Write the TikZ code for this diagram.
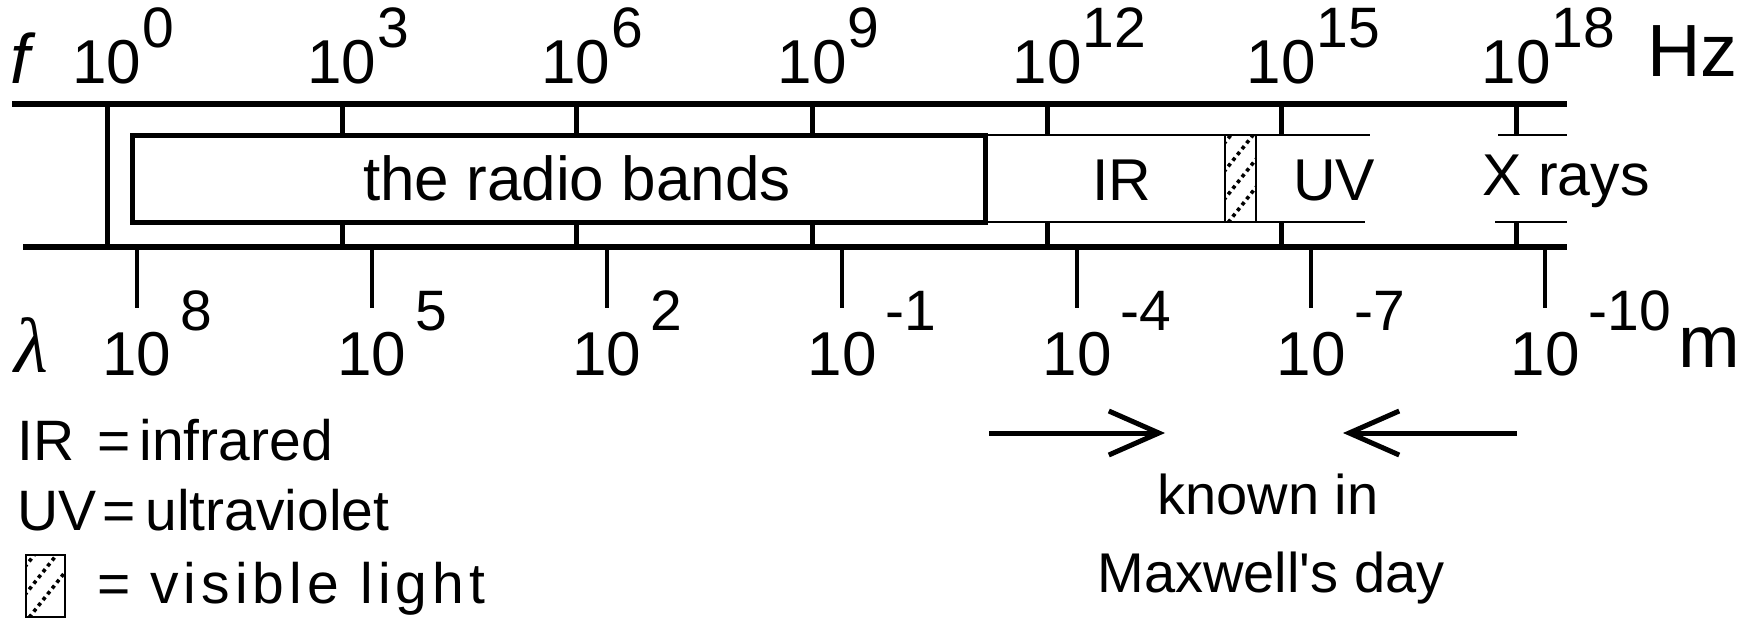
\documentclass[tikz,border=0pt]{standalone}
\usepackage{fontspec}
\setmainfont{Liberation Sans}[Ligatures=TeXOff]
\newfontfamily\lamfont{Liberation Serif}[Ligatures=TeXOff]
\usetikzlibrary{arrows.meta,calc}
\newcommand\fsz[1]{\fontsize{#1}{#1}\selectfont}
\newcommand\visfill[4]{%
  \begin{scope}
    \clip (#1,#2) rectangle (#3,#4);
    \foreach \k in {0,...,6} {\draw[dots] (#1-6,#4+12-\k*28) -- ++(46,-58);}
  \end{scope}
  \draw[vis] (#1,#2) rectangle (#3,#4);}
\begin{document}
\begin{tikzpicture}[x=1pt,y=-1pt,
  axis/.style={line width=6pt},
  tick/.style={line width=5pt},
  ltick/.style={line width=4pt},
  thinline/.style={line width=1.5pt},
  num/.style={font=\fsz{62}, inner sep=0pt, anchor=base},
  sup/.style={font=\fsz{57}, inner sep=0pt, anchor=base west},
  lsup/.style={font=\fsz{57}, inner sep=0pt, anchor=base west},
  band/.style={font=\fsz{59}, inner sep=0pt, anchor=base},
  leg/.style={font=\fsz{57}, inner sep=0pt, anchor=base west},
  note/.style={font=\fsz{56}, inner sep=0pt, anchor=base},
  unit/.style={font=\fsz{74}, inner sep=0pt, anchor=base west},
  arr/.style={line width=5pt, -{Straight Barb[length=50pt,width=44pt]}},
  vis/.style={draw, line width=1.2pt},
  dots/.style={line width=3.6pt, dash pattern=on 3.6pt off 3.8pt}
]
\useasboundingbox (0,0) rectangle (1760,618);

% main axis lines
\draw[axis] (12,104) -- (1567,104);
\draw[axis] (23,247) -- (1567,247);

% upper ticks
\draw[tick] (107,104) -- (107,247);
\foreach \x in {342,576,812,1047,1281,1516} {
  \draw[tick] (\x,104) -- (\x,135);
  \draw[tick] (\x,222) -- (\x,247);
}

% upper labels
\node[font=\itshape\fsz{70}, inner sep=0pt, anchor=base west] (f) at (10,83) {f};
\foreach \x/\e [count=\i] in {107/0,342/3,576/6,812/9,1047/12,1281/15,1516/18} {
  \node[num] (up\i) at (\x,83) {10};
  \node[sup] (ups\i) at ($(up\i.base east)+(1,-35)$) {\e};
}
\node[unit] (hz) at (1647,77) {Hz};

% lower ticks and labels
\node[font=\lamfont\itshape\fsz{78}, inner sep=0pt, anchor=base west] (lam) at (14,372) {λ};
\foreach \x/\e [count=\i] in {137/8,372/5,607/2,842/-1,1077/-4,1311/-7,1545/-10} {
  \draw[ltick] (\x,247) -- (\x,308);
  \node[num] (lo\i) at (\x,375) {10};
  \node[lsup] (los\i) at ($(lo\i.base east)+(9,-45)$) {\e};
}
\node[unit] (m) at (1678,367) {m};

% bands
\draw[line width=5pt] (132,135) rectangle (985,222);
\node[band, font=\fsz{62}] (radio) at (577,200) {the radio bands};
\draw[thinline] (985,135) -- (1370,135);
\draw[thinline] (985,222) -- (1365,222);
\draw[thinline] (1498,135) -- (1567,135);
\draw[thinline] (1495,222) -- (1567,222);
\visfill{1225}{135}{1256}{222}
\node[band] (ir) at (1122,200) {IR};
\node[band] (uv) at (1334,200) {UV};
\node[band] (xr) at (1566,195) {X rays};

% legend
\node[leg] (lir) at (17,460) {\makebox[80pt][l]{IR}=\hspace{9pt}infrared};
\node[leg] (luv) at (17,530) {\makebox[85pt][l]{UV}=\hspace{10pt}ultraviolet};
\visfill{26}{555}{65}{617}
\node[leg] (leq) at (97,603) {=};
\node[leg] (lvis) at (150,603) {\addfontfeatures{LetterSpace=9}visible light};

% arrows and note
\coordinate (a1s) at (989,433);
\coordinate (a1e) at (1165,433);
\coordinate (a2s) at (1517,433);
\coordinate (a2e) at (1343,433);
\draw[arr] (a1s) -- (a1e);
\draw[arr] (a2s) -- (a2e);
\node[note] (known) at (1268,514) {known in};
\node[note] (maxw) at (1271,592) {Maxwell's day};
\end{tikzpicture}
\end{document}
